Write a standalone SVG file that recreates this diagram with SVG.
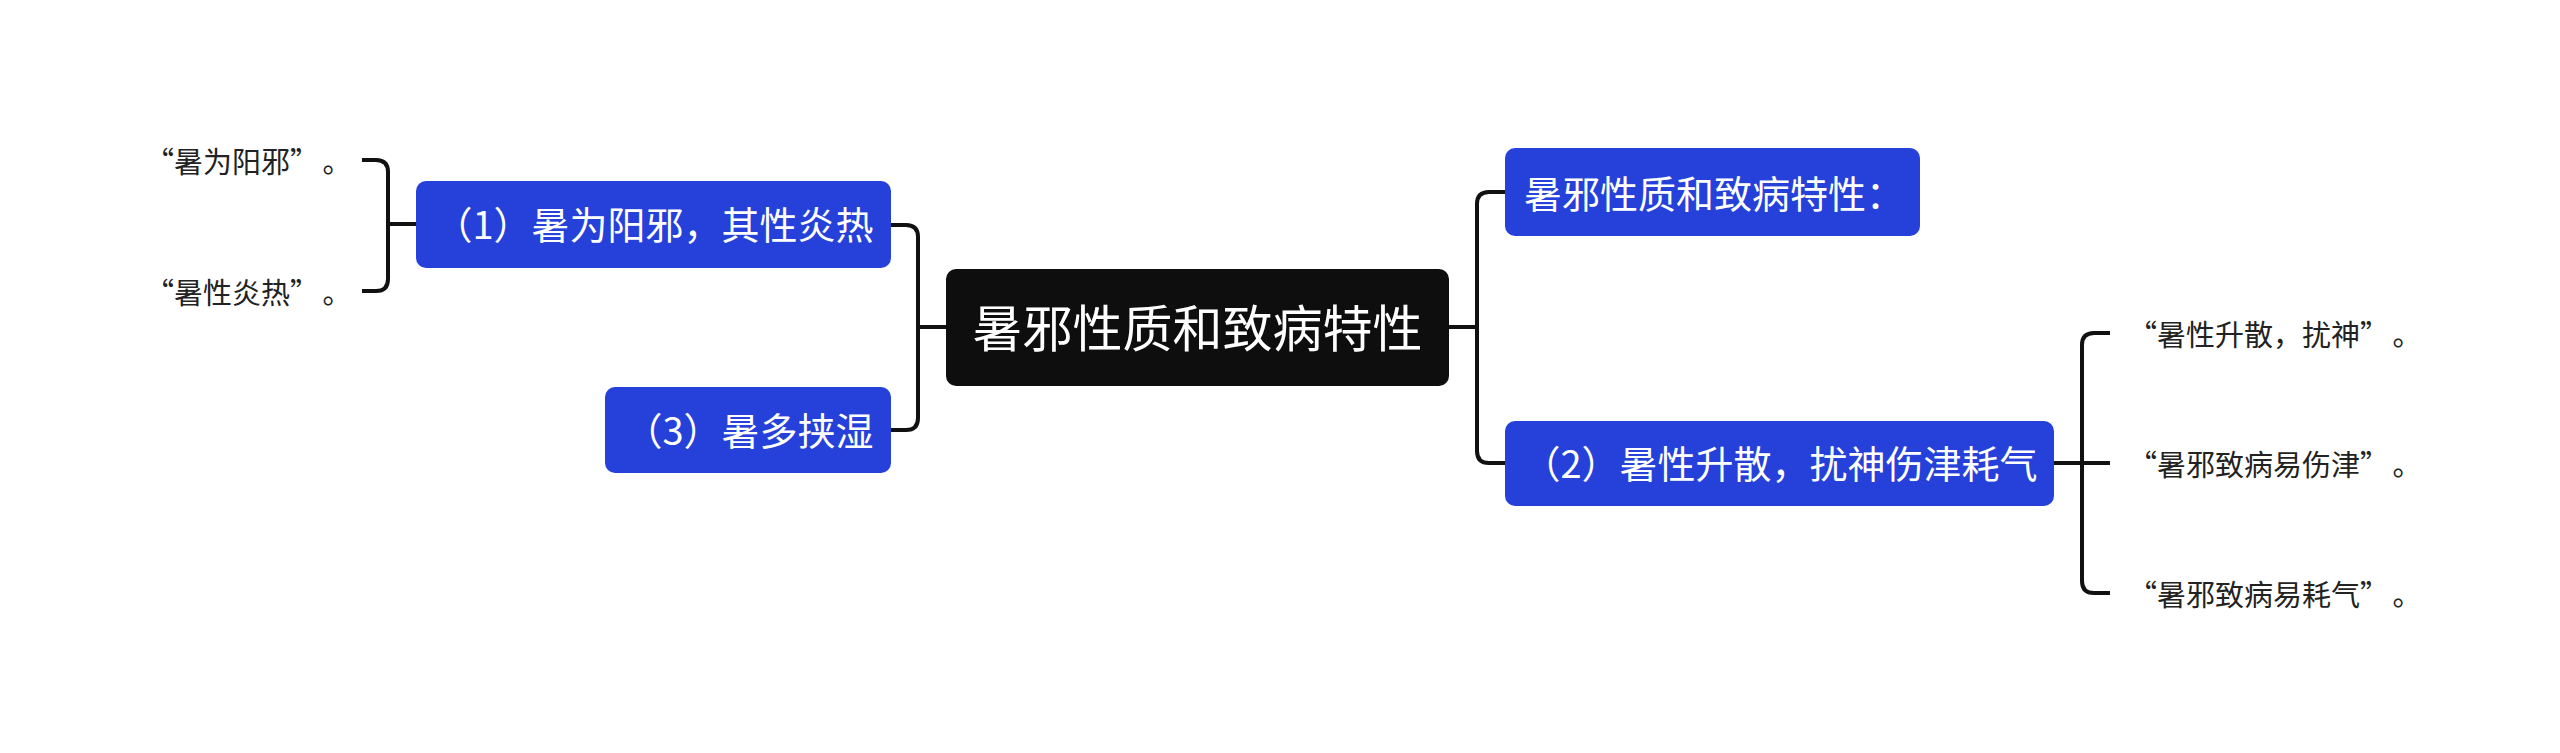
<svg xmlns="http://www.w3.org/2000/svg" width="2560" height="753" viewBox="0 0 2560 753">
<style>
.bg{fill:#ffffff}
.blue{fill:#2541DA}
.dark{fill:#0E0E0E}
.t{font-family:"Noto Sans CJK SC","Noto Sans",sans-serif;fill:#ffffff}
.tn{font-size:38px;text-anchor:middle}
.tc{font-size:50px;text-anchor:middle}
.leaf{font-family:"Noto Sans CJK SC","Noto Sans",sans-serif;font-size:29px;fill:#222222}
.c{fill:none;stroke:#111111;stroke-width:4;stroke-linecap:butt;stroke-linejoin:round}
</style>
<rect class="bg" x="0" y="0" width="2560" height="753"/>
<g id="connectors">
  <path class="c" d="M946 327 H918"/>
  <path class="c" d="M891 225 H906 Q918 225 918 237 V418 Q918 430 906 430 H891"/>
  <path class="c" d="M416 224 H388"/>
  <path class="c" d="M362 160 H376 Q388 160 388 172 V279 Q388 291 376 291 H362"/>
  <path class="c" d="M1449 327 H1477"/>
  <path class="c" d="M1505 192 H1489 Q1477 192 1477 204 V451 Q1477 463 1489 463 H1505"/>
  <path class="c" d="M2054 463 H2110"/>
  <path class="c" d="M2110 333 H2094 Q2082 333 2082 345 V581 Q2082 593 2094 593 H2110"/>
</g>
<g id="node-center">
  <rect class="dark" x="946" y="269" width="503" height="117" rx="10"/>
  <text class="t tc" x="1197.5" y="347">暑邪性质和致病特性</text>
</g>
<g id="node-1">
  <rect class="blue" x="416" y="181" width="475" height="87" rx="10"/>
  <text class="t tn" x="654" y="239">（1）暑为阳邪，其性炎热</text>
</g>
<g id="node-3">
  <rect class="blue" x="605" y="387" width="286" height="86" rx="10"/>
  <text class="t tn" x="749" y="445">（3）暑多挟湿</text>
</g>
<g id="node-top">
  <rect class="blue" x="1505" y="148" width="415" height="88" rx="10"/>
  <text class="t tn" x="1714" y="208">暑邪性质和致病特性：</text>
</g>
<g id="node-2">
  <rect class="blue" x="1505" y="421" width="549" height="85" rx="10"/>
  <text class="t tn" x="1780" y="478">（2）暑性升散，扰神伤津耗气</text>
</g>
<g id="leaf-l1"><text class="leaf" x="145" y="173">“暑为阳邪”<tspan dx="18">。</tspan></text></g>
<g id="leaf-l2"><text class="leaf" x="145" y="304">“暑性炎热”<tspan dx="18">。</tspan></text></g>
<g id="leaf-r1"><text class="leaf" x="2128" y="346">“暑性升散，扰神”<tspan dx="18">。</tspan></text></g>
<g id="leaf-r2"><text class="leaf" x="2128" y="476">“暑邪致病易伤津”<tspan dx="18">。</tspan></text></g>
<g id="leaf-r3"><text class="leaf" x="2128" y="606">“暑邪致病易耗气”<tspan dx="18">。</tspan></text></g>
</svg>
